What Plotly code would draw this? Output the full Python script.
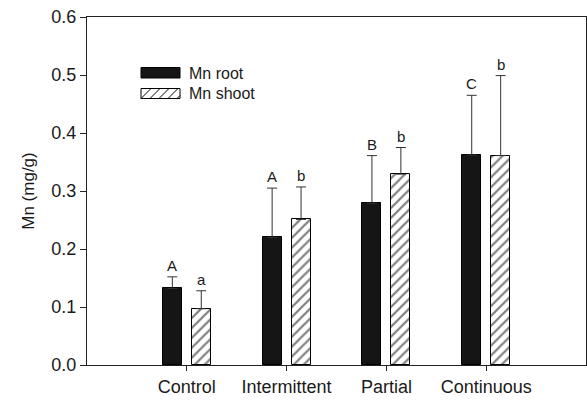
import plotly.graph_objects as go

categories = ["Control", "Intermittent", "Partial", "Continuous"]
root_vals = [0.132, 0.220, 0.279, 0.362]
root_err = [0.020, 0.085, 0.082, 0.103]
shoot_vals = [0.097, 0.251, 0.329, 0.361]
shoot_err = [0.031, 0.056, 0.046, 0.138]
root_letters = ["A", "A", "B", "C"]
shoot_letters = ["a", "b", "b", "b"]
y_ticks = [0.0, 0.1, 0.2, 0.3, 0.4, 0.5, 0.6]

OFF = 0.145
BW = 0.19
idx = list(range(len(categories)))
x_root = [i - OFF for i in idx]
x_shoot = [i + OFF for i in idx]

FONT = "Liberation Sans, Arial, sans-serif"
AX = "#222222"
TXT = "#1a1a1a"

fig = go.Figure()
fig.add_trace(go.Bar(
    x=x_root, y=root_vals, width=BW, name="Mn root",
    marker=dict(color="#151515", line=dict(color="#000000", width=1)),
    error_y=dict(type="data", array=root_err, arrayminus=[0]*4, symmetric=False,
                 color="#333333", thickness=1, width=5),
    showlegend=False,
))
fig.add_trace(go.Bar(
    x=x_shoot, y=shoot_vals, width=BW, name="Mn shoot",
    marker=dict(color="white", line=dict(color="#000000", width=1),
                pattern=dict(shape="/", size=7, solidity=0.32, fgcolor="#000000", bgcolor="white")),
    error_y=dict(type="data", array=shoot_err, arrayminus=[0]*4, symmetric=False,
                 color="#333333", thickness=1, width=5),
    showlegend=False,
))

for xs, vs, es, ls in [(x_root, root_vals, root_err, root_letters),
                       (x_shoot, shoot_vals, shoot_err, shoot_letters)]:
    for x, v, e, l in zip(xs, vs, es, ls):
        fig.add_annotation(x=x, y=v + e, text=l, showarrow=False, yanchor="bottom",
                           yshift=1, font=dict(family=FONT, size=15, color=TXT))

# legend (drawn manually to mimic the wide swatches)
def px(xp):
    return (xp - 87) / 499.0

def py(yp):
    return (365 - yp) / 348.0

fig.add_shape(type="rect", xref="paper", yref="paper",
              x0=px(141), x1=px(180), y0=py(78), y1=py(67.5),
              fillcolor="#151515", line=dict(color="#000", width=1))
fig.add_shape(type="rect", xref="paper", yref="paper",
              x0=px(141), x1=px(180), y0=py(98.5), y1=py(88.5),
              fillcolor="white", line=dict(color="#000", width=1))
for k in range(5):
    xa = 141 + k * 9
    xb = xa + 10
    x0, x1 = max(xa, 141), min(xb, 180)
    y0 = 98.5 - (x0 - xa) * 1.0
    y1 = 98.5 - (x1 - xa) * 1.0
    fig.add_shape(type="line", xref="paper", yref="paper",
                  x0=px(x0), x1=px(x1), y0=py(y0), y1=py(y1),
                  line=dict(color="#000", width=1))
fig.add_annotation(xref="paper", yref="paper", x=px(187), y=py(73), text="Mn root",
                   showarrow=False, xanchor="left", yanchor="middle",
                   font=dict(family=FONT, size=16, color=TXT))
fig.add_annotation(xref="paper", yref="paper", x=px(187), y=py(93.5), text="Mn shoot",
                   showarrow=False, xanchor="left", yanchor="middle",
                   font=dict(family=FONT, size=16, color=TXT))

fig.update_layout(
    width=587, height=401,
    margin=dict(l=87, r=1, t=17, b=36),
    paper_bgcolor="white", plot_bgcolor="white",
    font=dict(family=FONT, size=18, color=TXT),
    bargap=0,
)
fig.update_xaxes(range=[-1, 4], tickvals=idx, ticktext=categories,
                 showline=True, linecolor=AX, linewidth=1, mirror=True,
                 ticks="outside", ticklen=5, tickcolor=AX, showgrid=False, zeroline=False,
                 tickfont=dict(family=FONT, size=18, color=TXT))
fig.update_yaxes(range=[0, 0.6], tickvals=y_ticks, ticktext=[f"{t:.1f}" for t in y_ticks],
                 showline=True, linecolor=AX, linewidth=1, mirror=True,
                 ticks="outside", ticklen=6, tickcolor=AX, showgrid=False, zeroline=False,
                 title=dict(text="Mn (mg/g)", font=dict(family=FONT, size=17, color=TXT), standoff=12),
                 tickfont=dict(family=FONT, size=18, color=TXT))

fig.write_html("out.html", config={"displayModeBar": False},
               post_script="document.body.style.margin='0';document.body.style.padding='0';")
